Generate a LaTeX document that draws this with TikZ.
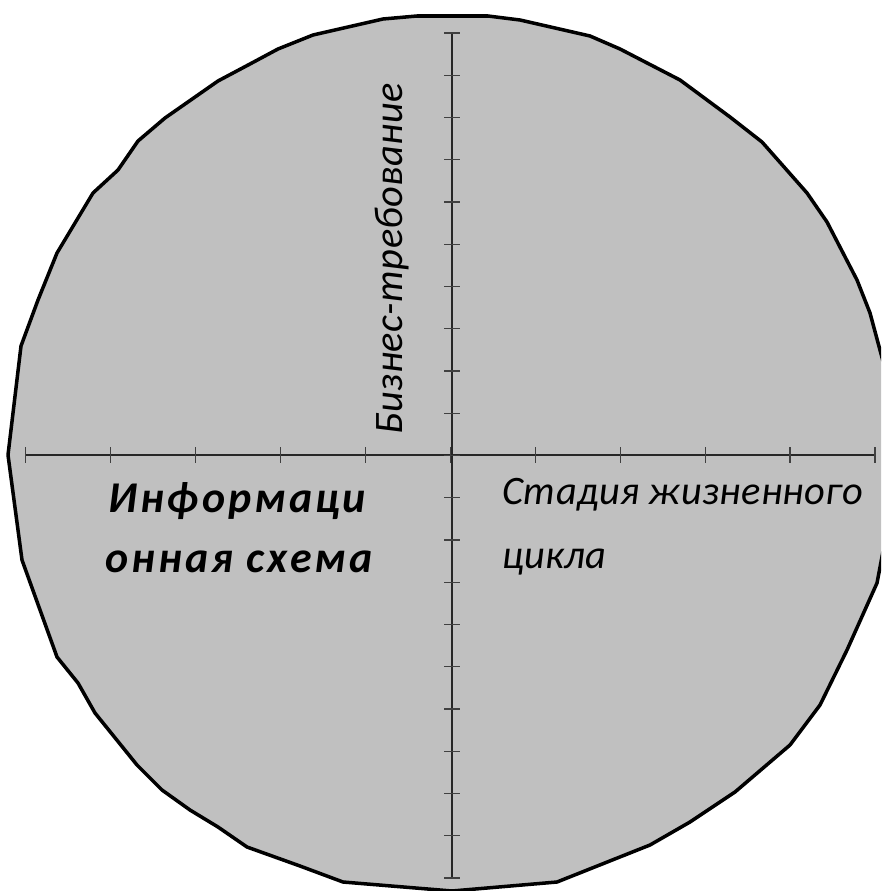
\documentclass[tikz,border=0pt]{standalone}
\usepackage{fontspec}
\setmainfont{Carlito}
\usepackage{xcolor}
\usepackage{tikz}

\definecolor{chartgray}{RGB}{192,192,192}
\newfontfamily\chartfont[LetterSpace=1]{Carlito}
\newfontfamily\titlefont[LetterSpace=7]{Carlito}

\begin{document}
\begin{tikzpicture}[x=0.02cm, y=-0.02cm,
  disc/.style={fill=chartgray, draw=black, line width=2pt, line join=round},
  axisline/.style={line width=0.7pt, black!85},
  tickmark/.style={line width=0.7pt, black!75},
  axislabel/.style={inner sep=0pt, font=\chartfont\itshape\fontsize{23}{28}\selectfont},
  titlelabel/.style={inner sep=0pt, font=\titlefont\itshape\bfseries\fontsize{25}{30}\selectfont}]
\useasboundingbox (0,0) rectangle (881,891);
\clip (0,0) rectangle (881,891);
% outline of the chart area
\draw[disc] (8,455) -- (21,346) -- (38,300) -- (57,253) -- (93,193) -- (118,170)
  -- (138,141) -- (165,118) -- (218,81) -- (250,64) -- (278,49) -- (313,35)
  -- (383,19) -- (417,16) -- (488,16) -- (520,20) -- (590,36) -- (620,49)
  -- (680,80) -- (730,117) -- (762,142) -- (807,193) -- (827,222) -- (857,280)
  -- (870,313) -- (884,365) -- (891,420) -- (892,470) -- (888,525) -- (877,583)
  -- (847,650) -- (820,705) -- (790,745) -- (735,792) -- (690,822) -- (650,845)
  -- (557,882) -- (452,891) -- (343,882) -- (300,866) -- (247,847) -- (218,827)
  -- (190,810) -- (162,790) -- (137,765) -- (95,713) -- (78,683) -- (57,657)
  -- (22,560) -- cycle;
% axes
\coordinate (xleft) at (25.7,455);
\coordinate (xright) at (875,455);
\coordinate (ytop) at (452,33);
\coordinate (ybottom) at (452,878);
\draw[axisline] (xleft) -- (xright);
\draw[axisline] (ytop) -- (ybottom);
\foreach \i in {0,...,10}
  \draw[tickmark] ({25.7+84.93*\i},447) -- ({25.7+84.93*\i},463);
\foreach \j in {0,...,20}
  \draw[tickmark] (444,{33+42.25*\j}) -- (460,{33+42.25*\j});
% labels
\node[axislabel, rotate=90, anchor=base west] (demand) at (402,435) {Бизнес-требование};
\node[axislabel, anchor=base west] (stage) at (502,504) {Стадия жизненного};
\node[axislabel, anchor=base west] (cycle) at (502,568) {цикла};
\node[titlelabel, anchor=base west] (infoa) at (108,512) {Информаци};
\node[titlelabel, anchor=base west] (infob) at (105,572) {онная схема};
\end{tikzpicture}
\end{document}
